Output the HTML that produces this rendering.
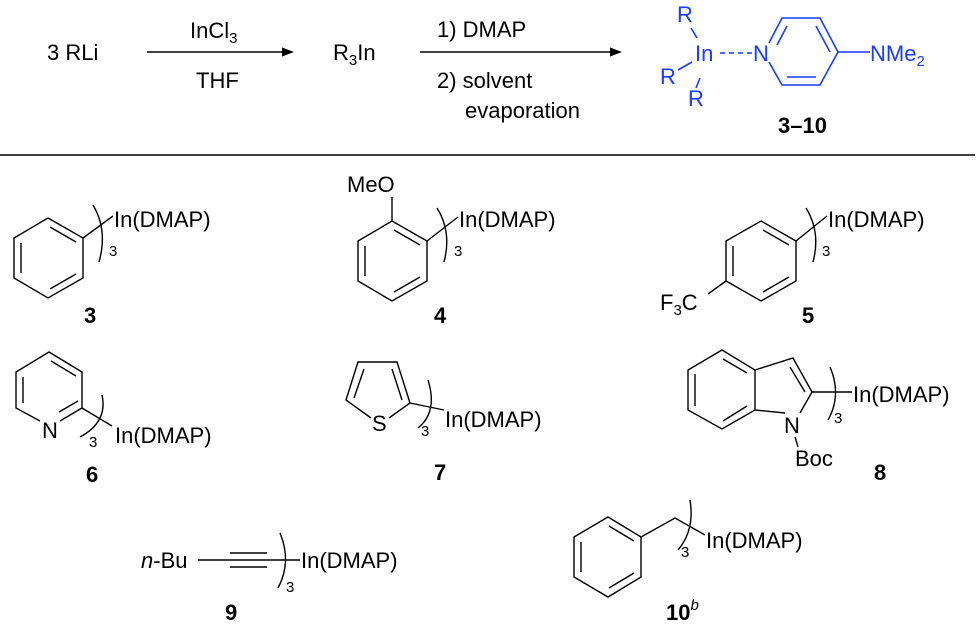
<!DOCTYPE html>
<html><head><meta charset="utf-8"><style>
body{margin:0;background:#fff}
svg{display:block}
text{font-family:"Liberation Sans",sans-serif;font-size:22px;fill:#000}
.b{font-weight:bold}
.s{font-size:15px}
.bl{fill:#1a3cf5}
</style></head><body>
<svg width="980" height="631" viewBox="0 0 980 631" xmlns="http://www.w3.org/2000/svg">
<g stroke="#000" stroke-width="1.6" fill="none">
<line x1="147" y1="52" x2="286" y2="52"/>
<line x1="420" y1="52" x2="614" y2="52"/>
<line x1="0" y1="155" x2="975" y2="155"/>
</g>
<polygon points="294,52 282,47.5 282,56.5" fill="#000"/>
<polygon points="622,52 610,47.5 610,56.5" fill="#000"/>
<text x="47" y="60">3  RLi</text>
<text x="190" y="38">InCl<tspan class="s" dy="5">3</tspan></text>
<text x="196" y="88">THF</text>
<text x="333" y="60">R<tspan class="s" dy="5">3</tspan><tspan dy="-5">In</tspan></text>
<text x="437" y="37">1) DMAP</text>
<text x="437" y="88">2) solvent</text>
<text x="465" y="118">evaporation</text>
<g stroke="#1a3cf5" stroke-width="1.6" fill="none">
<line x1="691" y1="28" x2="697" y2="38"/>
<line x1="678" y1="70" x2="692" y2="62"/>
<line x1="700" y1="78" x2="696" y2="88"/>
<line x1="720" y1="53" x2="752" y2="53" stroke-dasharray="5,4"/>
<polyline points="769,43 782,18 820,18 838,52 820,85 782,85 769,62"/>
<line x1="787" y1="26" x2="777" y2="45"/>
<line x1="816" y1="26" x2="830" y2="52"/>
<line x1="787" y1="77" x2="816" y2="77"/>
<line x1="838" y1="52" x2="870" y2="52"/>
</g>
<text class="bl" x="677" y="22">R</text>
<text class="bl" x="695" y="61">In</text>
<text class="bl" x="753" y="61">N</text>
<text class="bl" x="870" y="61">NMe<tspan class="s" dy="5">2</tspan></text>
<text class="bl" x="660" y="84">R</text>
<text class="bl" x="688" y="106">R</text>
<text class="b" x="778" y="133">3–10</text>

<g stroke="#000" stroke-width="1.4" fill="none">
<polygon points="48,218 83,238 83,278 48,298 14,278 14,238"/>
<line x1="50" y1="227" x2="76" y2="242"/><line x1="76" y1="274" x2="50" y2="289"/><line x1="21" y1="243" x2="21" y2="273"/>
<line x1="83" y1="238" x2="113" y2="216"/>
<path d="M93,205 Q108,230 99,262"/>
<polygon points="392,221 427,241 427,281 392,301 358,281 358,241"/>
<line x1="394" y1="230" x2="420" y2="245"/><line x1="420" y1="277" x2="394" y2="292"/><line x1="365" y1="246" x2="365" y2="276"/>
<line x1="392" y1="221" x2="392" y2="197"/>
<line x1="427" y1="241" x2="458" y2="217"/>
<path d="M437,208 Q452,232 444,262"/>
<polygon points="761,221 796,241 796,281 761,301 726,281 726,241"/>
<line x1="763" y1="230" x2="789" y2="245"/><line x1="763" y1="292" x2="789" y2="277"/><line x1="733" y1="246" x2="733" y2="276"/>
<line x1="796" y1="241" x2="827" y2="216"/>
<line x1="726" y1="281" x2="708" y2="294"/>
<path d="M806,208 Q821,232 813,262"/>
<polyline points="60,421 82,408 82,372 49,352 16,372 16,408 40,421"/>
<line x1="51" y1="361" x2="76" y2="376"/><line x1="23" y1="377" x2="23" y2="403"/><line x1="59" y1="412" x2="78" y2="401"/>
<line x1="82" y1="408" x2="112" y2="426"/>
<path d="M102,395 Q108,422 80,437"/>
<polyline points="389,418 410,403 397,362 358,362 346,400 371,418"/>
<line x1="364" y1="369" x2="354" y2="398"/><line x1="392" y1="369" x2="402" y2="400"/>
<line x1="410" y1="403" x2="444" y2="410"/>
<path d="M428,380 Q438,412 418,428"/>
<polygon points="722,350 755,370 755,410 722,429 688,410 688,370"/>
<line x1="723" y1="359" x2="747" y2="373"/><line x1="695" y1="374" x2="695" y2="406"/><line x1="723" y1="421" x2="747" y2="406"/>
<polyline points="755,370 793,358 812,392 800,413"/>
<line x1="785" y1="413" x2="755" y2="410"/>
<line x1="790" y1="367" x2="805" y2="392"/>
<line x1="812" y1="392" x2="852" y2="392"/>
<line x1="795" y1="437" x2="798" y2="447"/>
<path d="M830,367 Q842,395 828,420"/>
<line x1="198" y1="560" x2="300" y2="560"/>
<line x1="230" y1="553" x2="267" y2="553"/><line x1="230" y1="567" x2="267" y2="567"/>
<path d="M280,533 Q292,562 278,588"/>
<polygon points="608,517 641,537 641,577 608,597 574,577 574,537"/>
<line x1="609" y1="526" x2="634" y2="541"/><line x1="634" y1="573" x2="609" y2="588"/><line x1="581" y1="542" x2="581" y2="572"/>
<polyline points="641,537 675,518 705,535"/>
<path d="M690,500 Q695,530 678,550"/>
</g>
<text x="114" y="227">In(DMAP)</text><text class="s" x="109" y="256">3</text><text class="b" x="84" y="323">3</text>
<text x="347" y="192">MeO</text>
<text x="459" y="227">In(DMAP)</text><text class="s" x="454" y="256">3</text><text class="b" x="434" y="323">4</text>
<text x="660" y="310">F<tspan class="s" dy="5">3</tspan><tspan dy="-5">C</tspan></text>
<text x="828" y="227">In(DMAP)</text><text class="s" x="822" y="256">3</text><text class="b" x="802" y="323">5</text>
<text x="42" y="438">N</text>
<text x="115" y="443">In(DMAP)</text><text class="s" x="89" y="447">3</text><text class="b" x="86" y="482">6</text>
<text x="372" y="431">S</text>
<text x="445" y="427">In(DMAP)</text><text class="s" x="421" y="436">3</text><text class="b" x="434" y="480">7</text>
<text x="784" y="433">N</text><text x="795" y="466">Boc</text>
<text x="853" y="402">In(DMAP)</text><text class="s" x="834" y="423">3</text><text class="b" x="874" y="480">8</text>
<text x="141" y="568"><tspan font-style="italic">n</tspan>-Bu</text>
<text x="301" y="568">In(DMAP)</text><text class="s" x="286" y="592">3</text><text class="b" x="225" y="620">9</text>
<text x="706" y="548">In(DMAP)</text><text class="s" x="681" y="557">3</text>
<text class="b" x="666" y="620">10<tspan class="s" font-weight="normal" font-style="italic" dy="-10">b</tspan></text>
</svg>
</body></html>
